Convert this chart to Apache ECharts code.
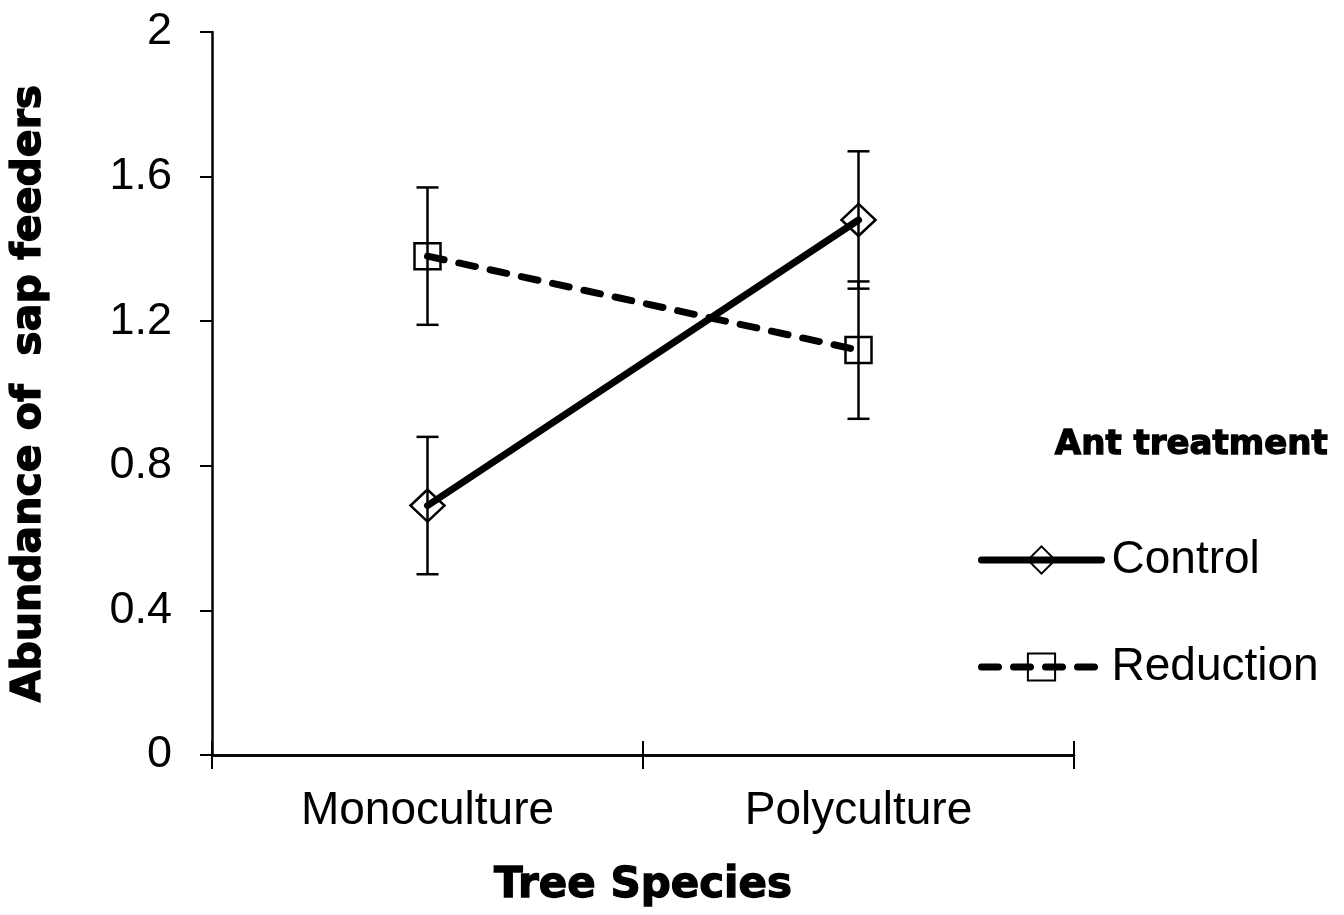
<!DOCTYPE html>
<html>
<head>
<meta charset="utf-8">
<script src="https://cdn.jsdelivr.net/npm/echarts@6/dist/echarts.min.js"></script>
<style>
  html, body { margin: 0; padding: 0; background: #fff; }
  #chart { width: 1344px; height: 915px; }
</style>
</head>
<body>
<div id="chart"></div>
<script>
// values (mean +/- error)
const categories = ['Monoculture', 'Polyculture'];
const controlMean = [0.69, 1.48];
const controlErr = [0.19, 0.19];
const reductionMean = [1.38, 1.12];
const reductionErr = [0.19, 0.19];

const regularFont = 'Liberation Sans';
const heavyFont = 'DejaVu Sans';

function errorData(mean, err) {
    return mean.map((m, i) => [i, m - err[i], m + err[i]]);
}

function renderErrorBar(params, api) {
    let x = api.value(0);
    let lo = api.coord([x, api.value(1)]);
    let hi = api.coord([x, api.value(2)]);
    let half = 11;
    let style = { stroke: '#000', lineWidth: 2.5 };
    return {
        type: 'group',
        children: [
            { type: 'line', shape: { x1: lo[0], y1: lo[1], x2: hi[0], y2: hi[1] }, style: style },
            { type: 'line', shape: { x1: lo[0] - half, y1: lo[1], x2: lo[0] + half, y2: lo[1] }, style: style },
            { type: 'line', shape: { x1: hi[0] - half, y1: hi[1], x2: hi[0] + half, y2: hi[1] }, style: style }
        ]
    };
}

let chart = echarts.init(document.getElementById('chart'), null, { renderer: 'canvas' });

let hollow = { color: 'rgba(0,0,0,0)', borderColor: '#000', borderWidth: 2.5 };
// heavy titles: bold face plus a thin outline to get closer to the black weight
let heavyText = { fontFamily: heavyFont, fontWeight: 'bold', color: '#000', textBorderColor: '#000', textBorderWidth: 1.3 };

let option = {
    animation: false,
    backgroundColor: '#fff',
    title: {
        text: 'Ant treatment',
        right: 10,
        top: 423,
        textStyle: Object.assign({ fontSize: 34 }, heavyText)
    },
    legend: {
        data: ['Control', 'Reduction'],
        orient: 'vertical',
        left: 978,
        top: 537,
        padding: 0,
        itemWidth: 120,
        itemHeight: 34,
        itemGap: 61,
        lineStyle: { width: 7, cap: 'round' },
        textStyle: { fontFamily: regularFont, fontSize: 46, color: '#000', padding: [0, 0, 0, 5] }
    },
    grid: { left: 212, right: 270, top: 32, bottom: 160, containLabel: false },
    xAxis: [{
        type: 'category',
        data: categories,
        boundaryGap: true,
        position: 'bottom',
        name: 'Tree Species',
        nameLocation: 'middle',
        nameGap: 110,
        nameTextStyle: Object.assign({ fontSize: 42 }, heavyText),
        axisLine: { lineStyle: { color: '#000', width: 2.5 } },
        axisTick: { show: true, length: 14, lineStyle: { color: '#000', width: 2 } },
        axisLabel: { fontFamily: regularFont, fontSize: 46, color: '#000', margin: 33 },
        splitLine: { show: false }
    }, {
        // same categories on the same line: draws the upper half of the crossing ticks
        type: 'category',
        data: categories,
        boundaryGap: true,
        position: 'bottom',
        axisLine: { show: true, lineStyle: { color: '#000', width: 2.5 } },
        axisTick: { show: true, inside: true, length: 14, lineStyle: { color: '#000', width: 2 } },
        axisLabel: { show: false },
        splitLine: { show: false }
    }],
    yAxis: {
        type: 'value',
        min: 0,
        max: 2,
        interval: 0.4,
        name: 'Abundance of  sap feeders',
        nameLocation: 'middle',
        nameGap: 162,
        nameTextStyle: Object.assign({ fontSize: 41 }, heavyText),
        axisLine: { show: true, lineStyle: { color: '#000', width: 2.5 } },
        axisTick: { show: true, length: 12, lineStyle: { color: '#000', width: 2 } },
        axisLabel: { fontFamily: regularFont, fontSize: 45, color: '#000', margin: 40 },
        splitLine: { show: false }
    },
    series: [
        {
            type: 'custom',
            name: 'errControl',
            xAxisIndex: 1,
            renderItem: renderErrorBar,
            data: errorData(controlMean, controlErr),
            z: 1
        },
        {
            type: 'custom',
            name: 'errReduction',
            xAxisIndex: 1,
            renderItem: renderErrorBar,
            data: errorData(reductionMean, reductionErr),
            z: 1
        },
        {
            type: 'line',
            name: 'Control',
            data: controlMean,
            symbol: 'diamond',
            symbolSize: [34, 32],
            lineStyle: { color: '#000', width: 7, cap: 'round' },
            itemStyle: hollow,
            z: 3
        },
        {
            type: 'line',
            name: 'Reduction',
            data: reductionMean,
            symbol: 'rect',
            symbolSize: 26,
            lineStyle: { color: '#000', width: 7, type: [17, 15], cap: 'round' },
            itemStyle: hollow,
            z: 3
        }
    ]
};

chart.setOption(option);
</script>
</body>
</html>
